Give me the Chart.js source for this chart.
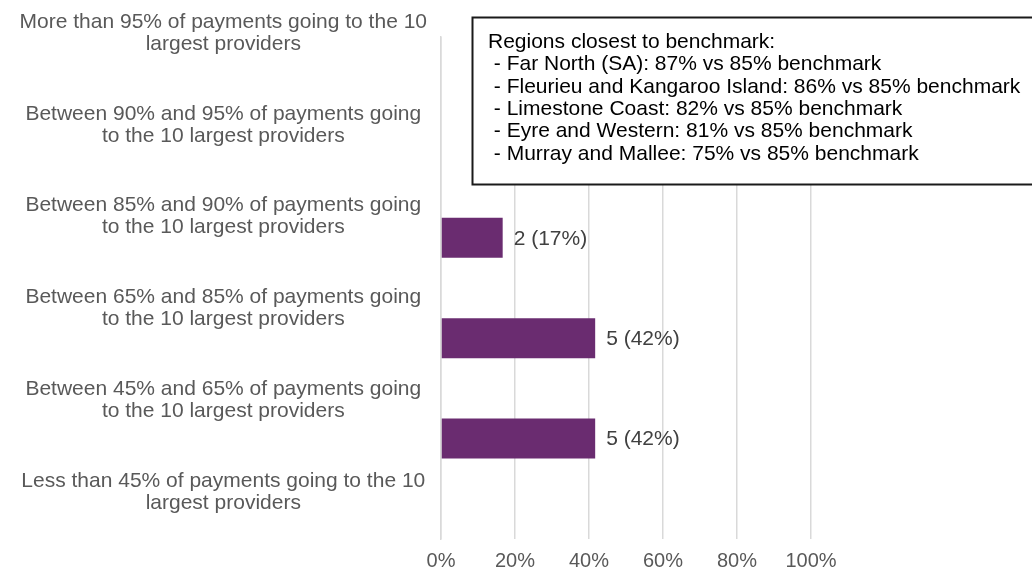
<!DOCTYPE html>
<html>
<head>
<meta charset="utf-8">
<script src="https://cdn.jsdelivr.net/npm/chart.js@4.4.1/dist/chart.umd.min.js"></script>
<style>
  html, body { margin: 0; padding: 0; background: #ffffff; }
  #wrap { width: 1032px; height: 573px; position: relative; }
</style>
</head>
<body>
<div id="wrap"><canvas id="c" width="1032" height="573"></canvas></div>
<script>
// ---- data ----
const categories = [
  ["More than 95% of payments going to the 10", "largest providers"],
  ["Between 90% and 95% of payments going", "to the 10 largest providers"],
  ["Between 85% and 90% of payments going", "to the 10 largest providers"],
  ["Between 65% and 85% of payments going", "to the 10 largest providers"],
  ["Between 45% and 65% of payments going", "to the 10 largest providers"],
  ["Less than 45% of payments going to the 10", "largest providers"]
];
const regionCounts = [0, 0, 2, 5, 5, 0];
const totalRegions = 12;
const sharePct = [0, 0, 16.67, 41.67, 41.67, 0];
const xTicks = [0, 20, 40, 60, 80, 100];
const noteLines = [
  "Regions closest to benchmark:",
  " - Far North (SA): 87% vs 85% benchmark",
  " - Fleurieu and Kangaroo Island: 86% vs 85% benchmark",
  " - Limestone Coast: 82% vs 85% benchmark",
  " - Eyre and Western: 81% vs 85% benchmark",
  " - Murray and Mallee: 75% vs 85% benchmark"
];

const FONT = "'Liberation Sans', Arial, sans-serif";

const barLabels = {
  id: 'barLabels',
  afterDatasetsDraw(chart) {
    const ctx = chart.ctx;
    const meta = chart.getDatasetMeta(0);
    ctx.save();
    ctx.font = "21px " + FONT;
    ctx.fillStyle = '#404040';
    ctx.textAlign = 'left';
    ctx.textBaseline = 'middle';
    meta.data.forEach((bar, i) => {
      if (!regionCounts[i]) return;
      const txt = regionCounts[i] + ' (' + Math.round(sharePct[i]) + '%)';
      ctx.fillText(txt, bar.x + 11, bar.y + 1);
    });
    ctx.restore();
  }
};

const noteBox = {
  id: 'noteBox',
  afterDraw(chart) {
    const ctx = chart.ctx;
    ctx.save();
    const left = 472.5, top = 17.5, bottom = 184.5, right = chart.width + 10;
    ctx.fillStyle = '#ffffff';
    ctx.fillRect(left, top, right - left, bottom - top);
    ctx.strokeStyle = '#1a1a1a';
    ctx.lineWidth = 2;
    ctx.strokeRect(left, top, right - left, bottom - top);
    ctx.font = "21px " + FONT;
    ctx.fillStyle = '#000000';
    ctx.textAlign = 'left';
    ctx.textBaseline = 'middle';
    noteLines.forEach((ln, i) => {
      ctx.fillText(ln, 488, 42 + i * 22.4);
    });
    ctx.restore();
  }
};

new Chart(document.getElementById('c'), {
  type: 'bar',
  data: {
    labels: categories,
    datasets: [{
      data: sharePct,
      backgroundColor: '#6A2C70',
      borderWidth: 0,
      inflateAmount: 0,
      barThickness: 40,
      xAxisID: 'x',
      yAxisID: 'y'
    }]
  },
  options: {
    indexAxis: 'y',
    responsive: false,
    animation: false,
    devicePixelRatio: 1,
    layout: { padding: { top: 37, right: 221, bottom: 0, left: 0 } },
    plugins: { legend: { display: false }, tooltip: { enabled: false } },
    scales: {
      x: {
        type: 'linear',
        position: 'bottom',
        min: 0, max: 100,
        afterBuildTicks: (s) => { s.ticks = xTicks.map(v => ({ value: v })); },
        afterFit: (s) => { s.height = 34; },
        grid: { color: '#d9d9d9', lineWidth: 1.5, drawTicks: false },
        border: { display: false },
        ticks: {
          padding: 10,
          color: '#595959',
          font: { family: FONT, size: 20, lineHeight: 1.2 },
          callback: (v) => v + '%'
        }
      },
      y: {
        type: 'category',
        position: 'left',
        offset: false,
        weight: 0,
        afterFit: (s) => { s.width = 0; s.paddingTop = 0; s.paddingBottom = 0; },
        ticks: { display: false },
        grid: { display: false, offset: false, drawTicks: false },
        border: { display: true, color: '#d9d9d9', width: 1.5 }
      },
      yl: {
        type: 'linear',
        position: 'left',
        reverse: true,
        offset: false,
        weight: 1,
        min: 0.044,
        max: 5.512,
        afterBuildTicks: (s) => { s.ticks = categories.map((c, i) => ({ value: i })); },
        afterFit: (s) => { s.width = 441; s.paddingTop = 0; s.paddingBottom = 0; },
        grid: { display: false, drawTicks: false, offset: false },
        border: { display: false },
        ticks: {
          autoSkip: false,
          padding: 14,
          crossAlign: 'center',
          color: '#595959',
          font: { family: FONT, size: 21, lineHeight: 1.05 },
          callback: (v, i) => categories[i]
        }
      }
    }
  },
  plugins: [barLabels, noteBox]
});
</script>
</body>
</html>
